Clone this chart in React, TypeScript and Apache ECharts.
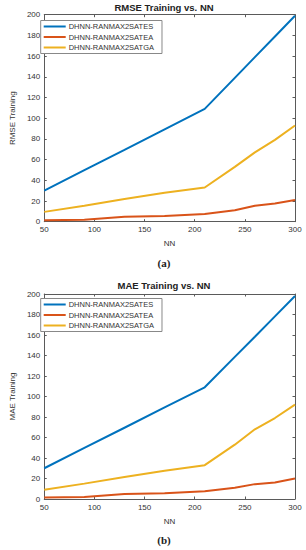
import React, { useEffect, useRef } from "react";
import * as echarts from "echarts";

const nn = [50, 90, 130, 170, 210, 240, 260, 280, 300];
const seriesNames = ["DHNN-RANMAX2SATES", "DHNN-RANMAX2SATEA", "DHNN-RANMAX2SATGA"];
const rmseSATES = [30, 49.8, 69.5, 89.3, 109, 139, 159, 179, 199];
const rmseSATEA = [1.5, 2, 4.8, 5.5, 7.5, 11, 15.5, 17.5, 21];
const rmseSATGA = [9.5, 15.5, 22, 28, 33, 53, 67, 79, 93];
const maeSATES = [30, 49.8, 69.5, 89.3, 109, 138.7, 158.3, 178.2, 198];
const maeSATEA = [1.5, 2, 4.8, 5.5, 7.5, 11, 14.5, 16, 20];
const maeSATGA = [9, 15, 21.5, 27.5, 33, 53, 68, 79, 92];
const titles = ["RMSE Training vs. NN", "MAE Training vs. NN"];
const yNames = ["RMSE Training", "MAE Training"];
const xName = "NN";
const captions = ["(a)", "(b)"];
const colors = ["#0072BD", "#D95319", "#EDB120"];

const font = "Liberation Sans, Arial, sans-serif";

export default function App() {
  const ref = useRef<HTMLDivElement>(null);
  useEffect(() => {
    if (!ref.current) return;
    const chart = echarts.init(ref.current, undefined, { renderer: "svg" });
    const grids = [
      { left: 33, right: 11, top: 14.7, height: 207 },
      { left: 33, right: 11, top: 294, height: 205 },
    ];
    const axisColor = "#5a5a5a";
    const textColor = "#333";
    const xAxes: any[] = [];
    const yAxes: any[] = [];
    grids.forEach((_, i) => {
      ["bottom", "top"].forEach((pos, k) => {
        xAxes.push({
          type: "value",
          gridIndex: i,
          position: pos,
          min: 50,
          max: 300,
          interval: 50,
          name: k === 0 ? xName : "",
          nameLocation: "middle",
          nameGap: 18,
          nameTextStyle: { fontFamily: font, fontSize: 8, color: textColor },
          axisLine: { show: true, onZero: false, lineStyle: { color: axisColor, width: 1 } },
          axisTick: { show: true, inside: true, length: 2.5, lineStyle: { color: axisColor } },
          axisLabel: { show: k === 0, fontFamily: font, fontSize: 8, color: textColor, margin: 4 },
          splitLine: { show: false },
        });
      });
      ["left", "right"].forEach((pos, k) => {
        yAxes.push({
          type: "value",
          gridIndex: i,
          position: pos,
          min: 0,
          max: 200,
          interval: 20,
          name: k === 0 ? yNames[i] : "",
          nameLocation: "middle",
          nameGap: 23,
          nameRotate: 90,
          nameTextStyle: { fontFamily: font, fontSize: 8, color: textColor },
          axisLine: { show: true, onZero: false, lineStyle: { color: axisColor, width: 1 } },
          axisTick: { show: true, inside: true, length: 2.5, lineStyle: { color: axisColor } },
          axisLabel: { show: k === 0, fontFamily: font, fontSize: 8, color: textColor, margin: 4 },
          splitLine: { show: false },
        });
      });
    });
    const data = [
      [rmseSATES, rmseSATEA, rmseSATGA],
      [maeSATES, maeSATEA, maeSATGA],
    ];
    const series: any[] = [];
    data.forEach((group, gi) => {
      group.forEach((vals, si) => {
        series.push({
          type: "line",
          name: seriesNames[si],
          xAxisIndex: gi * 2,
          yAxisIndex: gi * 2,
          data: nn.map((x, j) => [x, vals[j]]),
          symbol: "none",
          lineStyle: { color: colors[si], width: 2 },
          itemStyle: { color: colors[si] },
        });
      });
    });
    const legendTops = [20.5, 298.5];
    chart.setOption({
      animation: false,
      grid: grids,
      xAxis: xAxes,
      yAxis: yAxes,
      legend: legendTops.map((t) => ({
        orient: "vertical",
        left: 40.7,
        top: t,
        data: seriesNames,
        icon: "rect",
        itemWidth: 22,
        itemHeight: 2,
        itemGap: 2.5,
        padding: [2, 8, 2, 3],
        borderColor: "#888",
        borderWidth: 1,
        backgroundColor: "#fff",
        textStyle: { fontFamily: font, fontSize: 7.5, color: "#333", padding: [0, 0, 0, -2] },
        selectedMode: false,
      })),
      graphic: [
        ...titles.map((t, i) => ({
          type: "text",
          x: 164,
          y: i === 0 ? 7.5 : 285,
          style: {
            text: t,
            font: "bold 9.5px 'Liberation Sans', Arial, sans-serif",
            fill: "#222",
            textAlign: "center",
            textVerticalAlign: "middle",
          },
        })),
        ...captions.map((c, i) => ({
          type: "text",
          x: 164,
          y: i === 0 ? 262.5 : 539.5,
          style: {
            text: c,
            font: "bold 11px 'Liberation Serif', 'Times New Roman', serif",
            fill: "#222",
            textAlign: "center",
            textVerticalAlign: "middle",
          },
        })),
      ],
      series,
    });
    return () => chart.dispose();
  }, []);
  return (
    <div
      ref={ref}
      style={{ position: "fixed", left: 0, top: 0, width: 306, height: 550, background: "#fff" }}
    />
  );
}
